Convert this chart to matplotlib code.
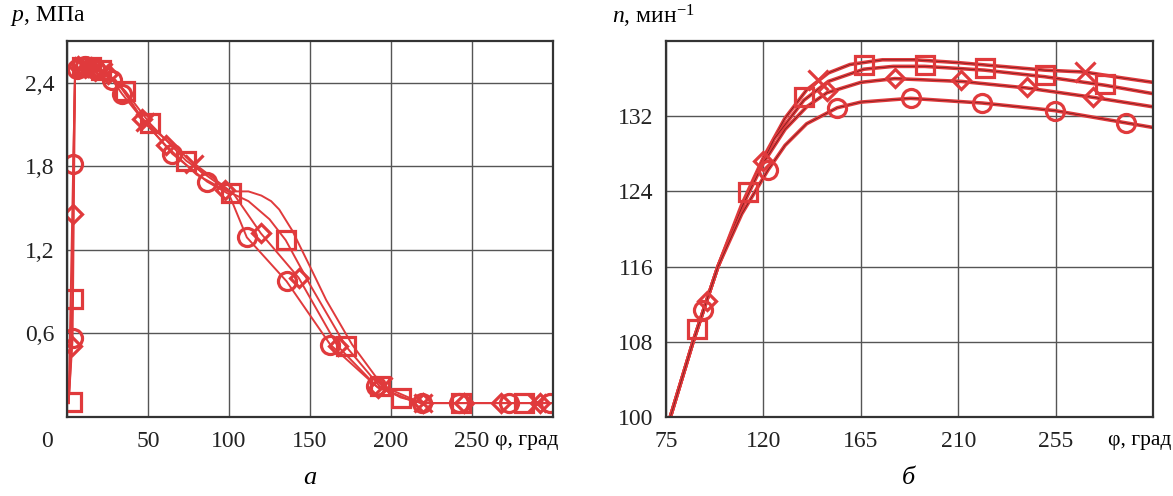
import matplotlib
matplotlib.use("Agg")
import matplotlib.pyplot as plt
import matplotlib.transforms as mtransforms

plt.rcParams['font.family'] = ['Liberation Serif', 'DejaVu Serif']
plt.rcParams['mathtext.fontset'] = 'custom'
plt.rcParams['mathtext.rm'] = 'Liberation Serif'
plt.rcParams['mathtext.it'] = 'Liberation Serif:italic'

RED = '#e03a3c'

# ---------------- Panel a: p(phi) ----------------
a_circle_phi = [1, 3.5, 3.9, 5, 12, 20, 28, 34, 45, 65, 86.5, 100, 111, 135.5, 162.5, 191, 210, 219, 242, 273, 300]
a_circle_p = [0.1, 0.57, 1.82, 2.5, 2.52, 2.49, 2.42, 2.32, 2.16, 1.89, 1.69, 1.6, 1.29, 0.975, 0.52, 0.22, 0.13, 0.1, 0.1, 0.1, 0.1]
a_circle_mphi = [3.5, 3.9, 6, 11, 17, 28, 34, 65, 86.5, 111, 135.5, 162.5, 191, 219, 242, 273, 298]
a_circle_mp = [0.57, 1.82, 2.5, 2.52, 2.5, 2.42, 2.32, 1.89, 1.69, 1.29, 0.975, 0.52, 0.22, 0.1, 0.1, 0.1, 0.1]

a_diam_phi = [1, 2.9, 3.7, 5, 15, 25, 35, 46, 61, 80, 97.5, 103, 119.6, 143, 167, 192, 210, 219, 300]
a_diam_p = [0.1, 0.51, 1.46, 2.5, 2.51, 2.46, 2.35, 2.14, 1.95, 1.74, 1.63, 1.6, 1.32, 1.0, 0.51, 0.21, 0.13, 0.1, 0.1]
a_diam_mphi = [2.9, 3.7, 7, 13, 19, 25, 46, 61, 97.5, 119.6, 143, 167, 192, 220, 245, 268, 292]
a_diam_mp = [0.51, 1.46, 2.52, 2.51, 2.5, 2.46, 2.14, 1.95, 1.63, 1.32, 1.0, 0.51, 0.21, 0.1, 0.1, 0.1, 0.1]

a_sq_phi = [1, 3.7, 5, 18, 26, 36, 51, 73.6, 101, 112, 125, 135, 150, 172, 193, 206, 219, 300]
a_sq_p = [0.1, 0.85, 2.5, 2.5, 2.45, 2.34, 2.11, 1.84, 1.61, 1.55, 1.42, 1.27, 0.95, 0.51, 0.22, 0.14, 0.1, 0.1]
a_sq_mphi = [2.9, 3.7, 9, 15, 21, 36, 51, 73.6, 101, 135, 172, 193, 206, 243, 282]
a_sq_mp = [0.11, 0.85, 2.51, 2.51, 2.49, 2.34, 2.11, 1.84, 1.61, 1.27, 0.51, 0.22, 0.14, 0.1, 0.1]

a_x_phi = [1, 5, 22, 30, 48, 78.5, 101, 112, 120, 126, 131, 139, 150, 160, 176, 195, 219, 300]
a_x_p = [0.1, 2.5, 2.48, 2.42, 2.12, 1.82, 1.62, 1.62, 1.59, 1.55, 1.49, 1.34, 1.08, 0.84, 0.52, 0.22, 0.1, 0.1]
a_x_mphi = [10, 16, 22, 48, 78.5, 195, 220, 290]
a_x_mp = [2.52, 2.5, 2.48, 2.12, 1.82, 0.22, 0.1, 0.1]

a_xticks = [0, 50, 100, 150, 200, 250]
a_xticklabels = ['0', '50', '100', '150', '200', '250']
a_yticks = [0.6, 1.2, 1.8, 2.4]
a_yticklabels = ['0,6', '1,2', '1,8', '2,4']

# ---------------- Panel b: n(phi) ----------------
b_x_phi = [77, 87.5, 99, 110, 120, 130, 140, 150, 160, 175, 190, 210, 230, 250, 268.4, 285, 300]
b_x_n = [100, 108, 116, 122.6, 127.6, 131.8, 134.8, 136.6, 137.5, 138.0, 138.0, 137.7, 137.3, 136.9, 136.7, 136.1, 135.6]
b_x_mphi = [145.3, 268.4]
b_x_mn = [135.9, 136.7]

b_sq_phi = [77, 87.5, 99, 113, 125, 138.7, 150, 166.4, 180, 194.5, 222.2, 250, 277.6, 300]
b_sq_n = [100, 108, 116, 123.9, 129.6, 133.7, 135.7, 137.0, 137.3, 137.3, 136.9, 136.2, 135.3, 134.4]
b_sq_mphi = [89.3, 113, 138.7, 166.4, 194.5, 222.2, 250, 277.6]
b_sq_mn = [109.4, 123.9, 134.0, 137.4, 137.5, 137.1, 136.4, 135.4]

b_d_phi = [77, 87.5, 99, 110, 119.9, 130, 140, 149.4, 165, 180.7, 211.5, 241.8, 272.5, 300]
b_d_n = [100, 108, 116, 122.3, 127.0, 130.6, 133.0, 134.5, 135.6, 136.0, 135.7, 135.0, 134.0, 133.0]
b_d_mphi = [94, 119.9, 149.4, 180.7, 211.5, 241.8, 272.5]
b_d_mn = [112.3, 127.2, 134.7, 136.1, 135.8, 135.1, 134.0]

b_c_phi = [77, 87.5, 99, 110, 122.2, 130, 140, 154.1, 165, 188, 221.2, 254.5, 287.3, 300]
b_c_n = [100, 108, 116, 121.6, 126.3, 128.9, 131.2, 132.9, 133.5, 133.9, 133.4, 132.6, 131.3, 130.8]
b_c_mphi = [92, 122.2, 154.1, 188, 221.2, 254.5, 287.3]
b_c_mn = [111.4, 126.3, 132.9, 133.9, 133.4, 132.6, 131.3]

b_xticks = [75, 120, 165, 210, 255]
b_xticklabels = ['75', '120', '165', '210', '255']
b_yticks = [100, 108, 116, 124, 132]
b_yticklabels = ['100', '108', '116', '124', '132']

FS = 17
FSL = 15.5

fig = plt.figure(figsize=(11.73, 4.96), dpi=100)
fig.patch.set_facecolor('white')
axL = fig.add_axes([67 / 1173, 79 / 496, 486 / 1173, 376 / 496])
axR = fig.add_axes([666 / 1173, 79 / 496, 487 / 1173, 376 / 496])

mk = dict(linestyle='none', markerfacecolor='none', markeredgecolor=RED,
          markeredgewidth=2.3, zorder=4)

# panel a
for xs, ys in [(a_circle_phi, a_circle_p), (a_diam_phi, a_diam_p), (a_sq_phi, a_sq_p), (a_x_phi, a_x_p)]:
    axL.plot(xs, ys, color=RED, lw=1.4, zorder=3)
axL.plot(a_circle_mphi, a_circle_mp, marker='o', markersize=13, **mk)
axL.plot(a_diam_mphi, a_diam_mp, marker='D', markersize=9.5, **mk)
axL.plot(a_sq_mphi, a_sq_mp, marker='s', markersize=12.5, **mk)
axL.plot(a_x_mphi, a_x_mp, marker='x', markersize=13, **mk)

axL.set_xlim(0, 300)
axL.set_ylim(0, 2.7)
axL.set_xticks(a_xticks)
axL.set_xticklabels(a_xticklabels)
axL.set_yticks(a_yticks)
axL.set_yticklabels(a_yticklabels)
axL.text(1.012, -0.062, 'φ, град', transform=axL.transAxes, ha='right', va='center', fontsize=FSL)

# panel b
for xs, ys in [(b_x_phi, b_x_n), (b_sq_phi, b_sq_n), (b_d_phi, b_d_n), (b_c_phi, b_c_n)]:
    axR.plot(xs, ys, color=RED, lw=2.6, zorder=3, solid_capstyle='round')
    axR.plot(xs, ys, color='#2a0a0a', lw=0.45, alpha=0.7, zorder=3)
axR.plot(b_c_mphi, b_c_mn, marker='o', markersize=13, **mk)
axR.plot(b_d_mphi, b_d_mn, marker='D', markersize=9.5, **mk)
axR.plot(b_sq_mphi, b_sq_mn, marker='s', markersize=12.5, **mk)
axR.plot(b_x_mphi, b_x_mn, marker='x', markersize=14, **mk)

axR.set_xlim(75, 300)
axR.set_ylim(100, 140)
axR.set_xticks(b_xticks)
axR.set_xticklabels(b_xticklabels)
axR.set_yticks(b_yticks)
axR.set_yticklabels(b_yticklabels)
axR.text(1.037, -0.062, 'φ, град', transform=axR.transAxes, ha='right', va='center', fontsize=FSL)

for ax in (axL, axR):
    ax.grid(True, color='#555555', lw=1.0)
    ax.set_axisbelow(True)
    ax.tick_params(length=0, labelsize=FS, colors='#222222')
    ax.tick_params(axis='x', pad=10)
    ax.tick_params(axis='y', pad=9)
    for sp in ax.spines.values():
        sp.set_color('#333333')
        sp.set_linewidth(1.6)
        sp.set_zorder(5)
    ax.set_facecolor('white')

# shift the "0" label to the left of the origin (after tick_params, which resets transforms)
lab0 = axL.xaxis.get_major_ticks()[0].label1
lab0.set_transform(lab0.get_transform() + mtransforms.ScaledTranslation(-20 / 100, 0, fig.dpi_scale_trans))

fig.text(10 / 1173, 1 - 16 / 496, '$p$, МПа', fontsize=FS, ha='left', va='center')
fig.text(612 / 1173, 1 - 16 / 496, '$n$, мин$^{-1}$', fontsize=FS, ha='left', va='center')
fig.text(310 / 1173, 1 - 478 / 496, 'а', fontsize=FS + 2, style='italic', ha='center', va='center')
fig.text(908 / 1173, 1 - 478 / 496, 'б', fontsize=FS + 2, style='italic', ha='center', va='center')

fig.savefig('out.png', dpi=100, facecolor='white')
